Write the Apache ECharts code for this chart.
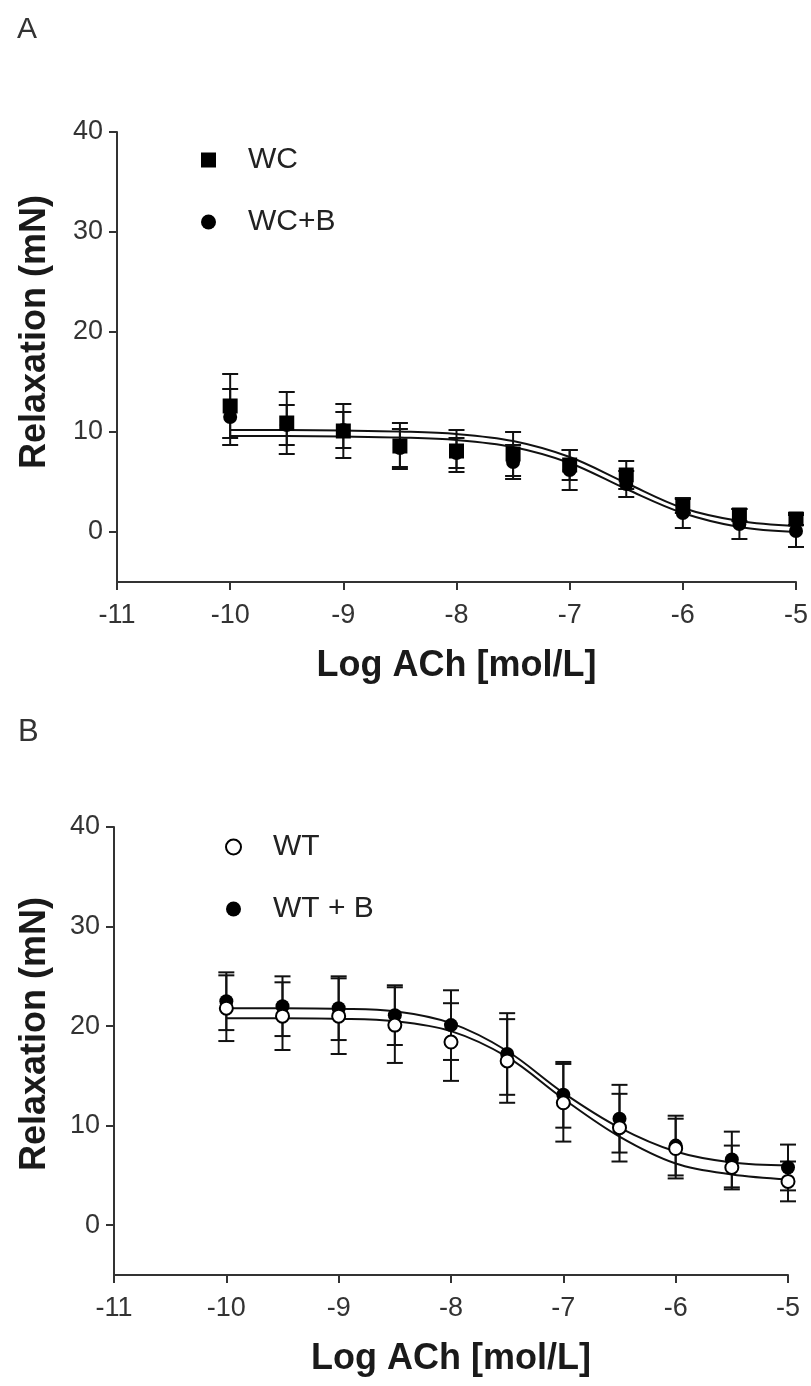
<!DOCTYPE html>
<html><head><meta charset="utf-8">
<script src="https://cdn.jsdelivr.net/npm/echarts@6/dist/echarts.min.js"></script>
<style>html,body{margin:0;padding:0;background:#fff}#c{width:811px;height:1386px}</style>
</head><body><div id="c"></div>
<script>
// ---- data ----
const doses = [-10, -9.5, -9, -8.5, -8, -7.5, -7, -6.5, -6, -5.5, -5];
const xTicks = [-11, -10, -9, -8, -7, -6, -5];
const yTicks = [0, 10, 20, 30, 40];

// Panel A
const wcMean  = [12.6, 10.9, 10.1, 8.6, 8.1, 7.8, 6.7, 5.7, 2.6, 1.7, 1.3];
const wcSem   = [3.2, 3.1, 2.7, 2.3, 2.1, 2.2, 1.5, 1.4, 0.7, 0.6, 0.6];
const wcbMean = [11.5, 10.7, 10.2, 8.4, 7.9, 7.0, 6.2, 4.8, 1.9, 0.8, 0.1];
const wcbSem  = [2.8, 2.0, 1.8, 1.9, 1.5, 1.7, 2.0, 1.3, 1.5, 1.5, 1.6];
const wcFit   = [10.2, 10.2, 10.15, 10.05, 9.8, 9.1, 7.5, 4.9, 2.4, 1.1, 0.6];
const wcbFit  = [9.6, 9.6, 9.55, 9.45, 9.2, 8.5, 6.9, 4.3, 1.9, 0.5, 0.0];

// Panel B
const wtMean  = [21.8, 21.0, 21.0, 20.1, 18.4, 16.5, 12.3, 9.8, 7.7, 5.8, 4.4];
const wtSem   = [3.3, 3.4, 3.8, 3.8, 3.9, 4.2, 3.9, 3.4, 3.0, 2.2, 2.0];
const wtbMean = [22.5, 22.0, 21.8, 21.1, 20.1, 17.2, 13.1, 10.7, 8.0, 6.6, 5.8];
const wtbSem  = [2.9, 3.0, 3.2, 3.0, 3.5, 4.1, 3.3, 3.4, 3.0, 2.8, 2.3];
const wtFit   = [20.8, 20.8, 20.75, 20.5, 19.5, 16.9, 12.7, 8.9, 6.2, 5.1, 4.6];
const wtbFit  = [21.8, 21.8, 21.75, 21.5, 20.3, 17.5, 13.3, 9.8, 7.4, 6.3, 6.0];

// ---- helpers ----
const FONT = '"Liberation Sans", Arial, sans-serif';
const INK = '#000';
function pts(v) { return doses.map((x, i) => [x, v[i]]); }
function errData(m, s) { return doses.map((x, i) => [x, m[i] - s[i], m[i] + s[i]]); }
function errSeries(name, m, s, ai) {
  return {
    type: 'custom', name: name, xAxisIndex: ai, yAxisIndex: ai, z: 1, silent: true,
    encode: { x: 0, y: [1, 2] },
    data: errData(m, s),
    renderItem: function (params, api) {
      const x = api.value(0);
      const lo = api.coord([x, api.value(1)]);
      const hi = api.coord([x, api.value(2)]);
      const w = 8;
      const st = { stroke: '#111', lineWidth: 2 };
      return { type: 'group', children: [
        { type: 'line', shape: { x1: lo[0], y1: lo[1], x2: hi[0], y2: hi[1] }, style: st },
        { type: 'line', shape: { x1: lo[0] - w, y1: lo[1], x2: lo[0] + w, y2: lo[1] }, style: st },
        { type: 'line', shape: { x1: hi[0] - w, y1: hi[1], x2: hi[0] + w, y2: hi[1] }, style: st }
      ]};
    }
  };
}
function fitSeries(name, v, ai) {
  return { type: 'line', name: name, xAxisIndex: ai, yAxisIndex: ai, data: pts(v), smooth: 0.35,
    showSymbol: false, silent: true, z: 2,
    lineStyle: { color: '#111', width: 2 } };
}
function xAxisCfg(gi) {
  return { type: 'value', gridIndex: gi, min: -11, max: -5, interval: 1,
    name: 'Log ACh [mol/L]', nameLocation: 'middle', nameGap: 66,
    nameTextStyle: { fontFamily: FONT, fontSize: 36, fontWeight: 'bold', color: '#1a1a1a' },
    axisLine: { onZero: false, lineStyle: { color: '#333', width: 2 } },
    axisTick: { length: 8, lineStyle: { color: '#333', width: 2 } },
    axisLabel: { fontFamily: FONT, fontSize: 27, color: '#333', margin: 20 },
    splitLine: { show: false } };
}
function yAxisCfg(gi, gap, shift) {
  return { type: 'value', gridIndex: gi, min: -5, max: 40,
    name: 'Relaxation (mN)', nameLocation: 'middle', nameGap: gap,
    nameTextStyle: { fontFamily: FONT, fontSize: 36, fontWeight: 'bold', color: '#1a1a1a',
      padding: [0, 0, 0, shift] },
    axisLine: { onZero: false, lineStyle: { color: '#333', width: 2 } },
    axisTick: { length: 8, customValues: yTicks, lineStyle: { color: '#333', width: 2 } },
    axisLabel: { fontFamily: FONT, fontSize: 27, color: '#333', margin: 14, customValues: yTicks },
    splitLine: { show: false } };
}
function legendCfg(names, left, top) {
  return { data: names, orient: 'vertical', left: left, top: top, itemWidth: 15, itemHeight: 15,
    itemGap: 28, selectedMode: false,
    textStyle: { fontFamily: FONT, fontSize: 30, color: '#222', lineHeight: 34, padding: [0, 0, 0, 27] } };
}

const chart = echarts.init(document.getElementById('c'));
chart.setOption({
  animation: false,
  backgroundColor: '#fff',
  title: [
    { text: 'A', left: 12, top: 10, textStyle: { fontFamily: FONT, fontSize: 30, fontWeight: 'normal', color: '#333' } },
    { text: 'B', left: 13, top: 712, textStyle: { fontFamily: FONT, fontSize: 31, fontWeight: 'normal', color: '#333' } }
  ],
  grid: [
    { left: 117, top: 132, width: 681, height: 450 },
    { left: 114, top: 827, width: 674, height: 448 }
  ],
  xAxis: [xAxisCfg(0), xAxisCfg(1)],
  yAxis: [yAxisCfg(0, 64, 50), yAxisCfg(1, 61, 34)],
  legend: [
    legendCfg(['WC', 'WC+B'], 196, 138),
    legendCfg(['WT', 'WT + B'], 220, 825)
  ],
  series: [
    errSeries('WC err', wcMean, wcSem, 0),
    errSeries('WC+B err', wcbMean, wcbSem, 0),
    fitSeries('WC fit', wcFit, 0),
    fitSeries('WC+B fit', wcbFit, 0),
    { type: 'scatter', name: 'WC+B', xAxisIndex: 0, yAxisIndex: 0, data: pts(wcbMean), symbol: 'circle',
      symbolSize: 14, z: 3, itemStyle: { color: INK, opacity: 1 } },
    { type: 'scatter', name: 'WC', xAxisIndex: 0, yAxisIndex: 0, data: pts(wcMean), symbol: 'rect',
      symbolSize: 15, z: 4, itemStyle: { color: INK, opacity: 1 } },

    errSeries('WT+B err', wtbMean, wtbSem, 1),
    errSeries('WT err', wtMean, wtSem, 1),
    fitSeries('WT+B fit', wtbFit, 1),
    fitSeries('WT fit', wtFit, 1),
    { type: 'scatter', name: 'WT + B', xAxisIndex: 1, yAxisIndex: 1, data: pts(wtbMean), symbol: 'circle',
      symbolSize: 14, z: 3, itemStyle: { color: INK, opacity: 1 } },
    { type: 'scatter', name: 'WT', xAxisIndex: 1, yAxisIndex: 1, data: pts(wtMean), symbol: 'circle',
      symbolSize: 13, z: 4, itemStyle: { color: '#fff', borderColor: INK, borderWidth: 2, opacity: 1 } }
  ]
});
</script>
</body></html>
